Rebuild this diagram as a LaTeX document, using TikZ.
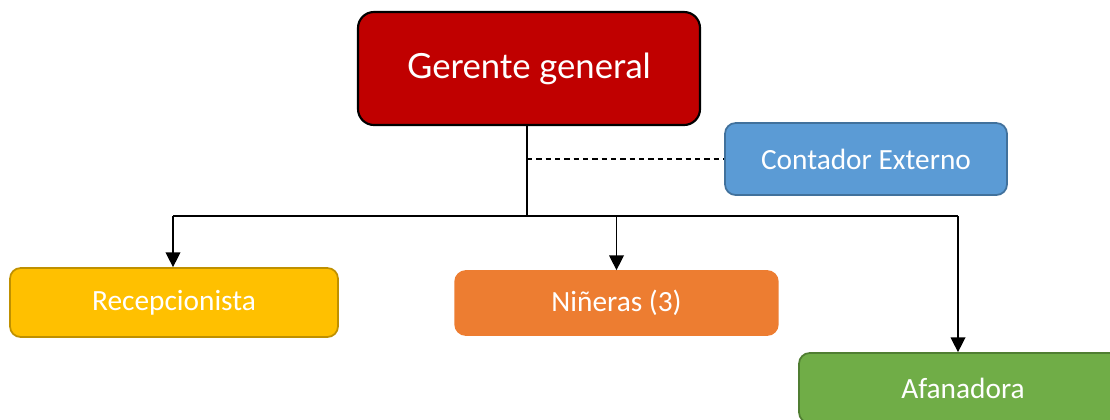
\documentclass[tikz,border=0pt]{standalone}
\usepackage{fontspec}
\setmainfont{Carlito}
\newfontfamily\titlefont{Lato}
\usetikzlibrary{arrows.meta}
\definecolor{gred}{HTML}{C00000}
\definecolor{cblue}{HTML}{5B9BD5}
\definecolor{cbluel}{HTML}{41719C}
\definecolor{ryel}{HTML}{FFC000}
\definecolor{ryell}{HTML}{BF9000}
\definecolor{norg}{HTML}{ED7D31}
\definecolor{agrn}{HTML}{70AD47}
\definecolor{agrnl}{HTML}{507E32}
\tikzset{
  box/.style={rectangle, rounded corners=8pt, text=white, inner sep=0pt,
    font=\fontsize{22}{26}\selectfont, line width=1.3pt},
  link/.style={line width=1pt, draw=black},
  arr/.style={link, -{Triangle[width=11pt,length=11pt]}},
}
\begin{document}
\begin{tikzpicture}[x=0.75pt,y=-0.75pt]
\useasboundingbox (0,0) rectangle (1110,419);
\clip (0,0) rectangle (1110,419);
\node[box, fill=gred, draw=black, line width=1.6pt, rounded corners=12pt,
  minimum width=256.5pt, minimum height=84.75pt,
  font=\titlefont\fontsize{26}{31}\selectfont] (G) at (529,68.5) {Gerente general};
\node[box, fill=cblue, draw=cbluel, minimum width=211.5pt, minimum height=54pt] (C) at (866,159) {Contador Externo};
\node[box, fill=ryel, draw=ryell, minimum width=246pt, minimum height=51.75pt] (R) at (174,302.5) {Recepcionista};
\node[box, fill=norg, draw=norg, minimum width=242pt, minimum height=48pt] (N) at (616.5,303) {Niñeras (3)};
\node[box, fill=agrn, draw=agrnl, minimum width=246pt, minimum height=52.5pt] (A) at (963,388) {Afanadora};
\coordinate (busL) at (173,216);
\coordinate (busR) at (958,216);
\coordinate (busM) at (527,216);
\draw[link] (G.south -| busM) -- (busM);
\draw[link] (busL) -- (busR);
\draw[link, dashed, dash pattern=on 4pt off 3pt] (busM |- C.west) -- (C.west);
\draw[arr] (busL) -- (busL |- R.north);
\draw[arr] (N.north |- busL) -- (N.north);
\draw[arr] (busR) -- (busR |- A.north);
\end{tikzpicture}
\end{document}
